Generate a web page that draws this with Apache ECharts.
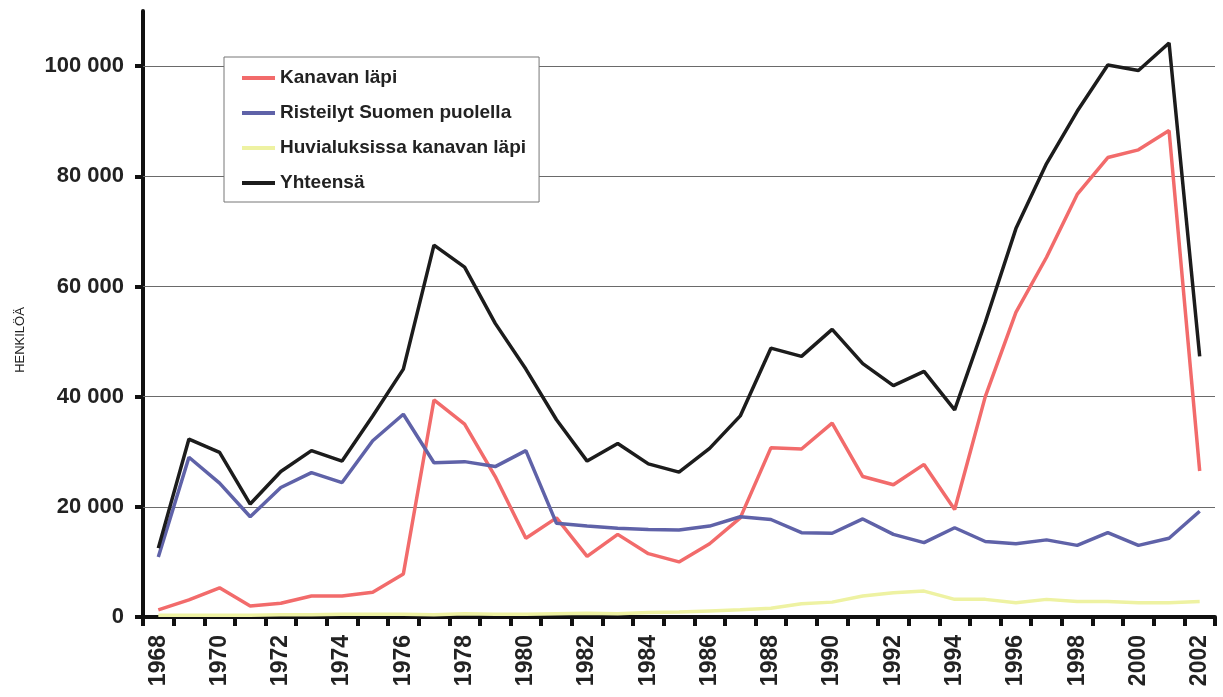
<!DOCTYPE html>
<html>
<head>
<meta charset="utf-8">
<script src="https://cdn.jsdelivr.net/npm/echarts@6/dist/echarts.min.js"></script>
<style>
html,body{margin:0;padding:0;background:#fff;}
#chart{width:1223px;height:697px;}
</style>
</head>
<body>
<div id="chart"></div>
<script>
const years = ['1968','1969','1970','1971','1972','1973','1974','1975','1976','1977','1978','1979','1980','1981','1982','1983','1984','1985','1986','1987','1988','1989','1990','1991','1992','1993','1994','1995','1996','1997','1998','1999','2000','2001','2002'];
const kanavanLapi = [1300,3100,5300,2000,2500,3800,3800,4500,7800,39400,35000,25500,14300,18000,11000,15000,11500,10000,13300,18000,30700,30500,35200,25500,24000,27700,19500,40000,55300,65300,76700,83400,84800,88300,26500];
const risteilyt = [10900,29000,24300,18200,23500,26200,24400,32000,36800,28000,28200,27300,30200,17000,16500,16100,15900,15800,16500,18200,17700,15300,15200,17800,15000,13500,16200,13700,13300,14000,13000,15300,13000,14300,19200];
const huvialuksissa = [300,300,300,300,400,400,500,500,500,400,600,500,500,600,700,600,800,900,1100,1300,1600,2400,2700,3800,4400,4700,3200,3200,2600,3200,2800,2800,2600,2600,2800];
const yhteensa = [12500,32300,29900,20500,26400,30200,28300,36500,45000,67500,63500,53300,45000,35800,28300,31500,27800,26300,30600,36500,48800,47300,52200,46000,42000,44600,37600,53500,70500,82300,91800,100200,99200,104200,47300];
const seriesNames = ['Kanavan läpi','Risteilyt Suomen puolella','Huvialuksissa kanavan läpi','Yhteensä'];
const yTicks = [20000,40000,60000,80000,100000];
const yAxisTitle = 'HENKILÖÄ';

const colors = ['#f26b6b','#5f62a8','#eef2a2','#1c1c1c'];
const fmt = v => String(v).replace(/\B(?=(\d{3})+(?!\d))/g,' ');
const FONT = '"Liberation Sans", Arial, sans-serif';

const chart = echarts.init(document.getElementById('chart'));
const mk = (name, data, color, z) => ({
  name, type:'line', data, symbol:'none', z,
  lineStyle:{color, width:3.5}, itemStyle:{color},
  emphasis:{disabled:true}
});
const s0 = mk(seriesNames[0], kanavanLapi, colors[0], 3);
s0.markLine = {
  silent:true, symbol:'none', animation:false, z:1,
  label:{show:false},
  lineStyle:{color:'#6a6a6a', width:1, type:'solid'},
  data: yTicks.map(v => ({yAxis:v}))
};
chart.setOption({
  animation:false,
  backgroundColor:'#fff',
  color: colors,
  grid:{left:143, right:8, top:11, bottom:80, containLabel:false},
  legend:{
    orient:'vertical', left:224, top:57,
    backgroundColor:'#fff',
    borderColor:'#777', borderWidth:1,
    padding:[11,13,9,18],
    itemGap:15,
    itemWidth:33, itemHeight:4, icon:'rect',
    textStyle:{fontFamily:FONT, fontSize:19, lineHeight:20, fontWeight:'bold', color:'#222'},
    data: seriesNames
  },
  graphic:[{
    type:'text', x:20, y:340, rotation:Math.PI/2,
    style:{text:yAxisTitle, font:'13px '+FONT, fill:'#222', textAlign:'center', textVerticalAlign:'middle'}
  }],
  xAxis:{
    type:'category', data:years, boundaryGap:true,
    axisLine:{lineStyle:{color:'#111', width:4}},
    axisTick:{show:true, length:9, interval:0, lineStyle:{color:'#111', width:4}},
    axisLabel:{interval:1, rotate:90, margin:18, fontFamily:FONT, fontSize:23, fontWeight:'bold', color:'#222'},
    splitLine:{show:false}
  },
  yAxis:{
    type:'value', min:0, max:110000, interval:20000,
    axisLine:{show:true, lineStyle:{color:'#111', width:4}},
    axisTick:{show:true, length:8, lineStyle:{color:'#111', width:4}},
    axisLabel:{showMaxLabel:false, margin:19, formatter: v => v>100000 ? '' : fmt(v), fontFamily:FONT, fontSize:22, fontWeight:'bold', color:'#222'},
    splitLine:{show:false}
  },
  series:[
    s0,
    mk(seriesNames[1], risteilyt, colors[1], 3),
    mk(seriesNames[2], huvialuksissa, colors[2], 2),
    mk(seriesNames[3], yhteensa, colors[3], 4)
  ]
});
</script>
</body>
</html>
